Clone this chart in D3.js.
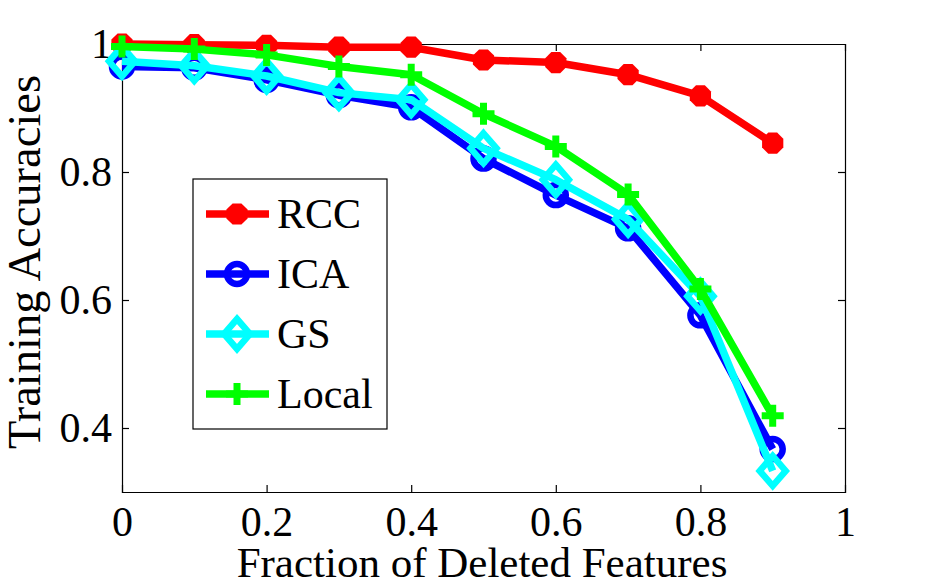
<!DOCTYPE html>
<html>
<head>
<meta charset="utf-8">
<script src="https://cdn.jsdelivr.net/npm/d3@7"></script>
<style>
html,body{margin:0;padding:0;background:#fff;}
svg text{font-family:"Liberation Serif","Times New Roman",serif;fill:#000;}
</style>
</head>
<body>
<svg id="chart" width="934" height="585"></svg>
<script>
// ---- data ----
const fractions = [0, 0.1, 0.2, 0.3, 0.4, 0.5, 0.6, 0.7, 0.8, 0.9];
const rcc   = [1.000, 0.999, 0.998, 0.995, 0.995, 0.975, 0.971, 0.952, 0.919, 0.845];
const ica   = [0.965, 0.963, 0.944, 0.920, 0.901, 0.821, 0.764, 0.712, 0.576, 0.367];
const gs    = [0.973, 0.966, 0.950, 0.924, 0.913, 0.837, 0.788, 0.726, 0.606, 0.333];
const local = [0.996, 0.992, 0.983, 0.965, 0.952, 0.891, 0.840, 0.765, 0.617, 0.419];
const seriesNames = ["RCC", "ICA", "GS", "Local"];
const xTicks = [0, 0.2, 0.4, 0.6, 0.8, 1];
const yTicks = [0.4, 0.6, 0.8, 1];
const xLabel = "Fraction of Deleted Features";
const yLabel = "Training Accuracies";

const series = [
  {name: seriesNames[0], values: rcc,   color: "#ff0000", marker: "octagon"},
  {name: seriesNames[1], values: ica,   color: "#0000ff", marker: "circle"},
  {name: seriesNames[2], values: gs,    color: "#00ffff", marker: "diamond"},
  {name: seriesNames[3], values: local, color: "#00ff00", marker: "plus"}
];

// ---- layout ----
const L = 122, R = 845, T = 44, B = 492;
const FS = 42;
const svg = d3.select("#chart");
const x = d3.scaleLinear().domain([0, 1]).range([L, R]);
const y = d3.scaleLinear().domain([0.3, 1]).range([B, T]);

const fmt = d => String(d);
const tickLen = 7;
const gx = svg.append("g").attr("transform", `translate(0,${B})`)
  .call(d3.axisBottom(x).tickValues(xTicks).tickSize(-tickLen).tickPadding(14).tickFormat(fmt));
const gxTop = svg.append("g").attr("transform", `translate(0,${T})`)
  .call(d3.axisTop(x).tickValues(xTicks).tickSize(-tickLen).tickFormat(""));
const gy = svg.append("g").attr("transform", `translate(${L},0)`)
  .call(d3.axisLeft(y).tickValues(yTicks).tickSize(-tickLen).tickPadding(10).tickFormat(fmt));
const gyR = svg.append("g").attr("transform", `translate(${R},0)`)
  .call(d3.axisRight(y).tickValues(yTicks).tickSize(-tickLen).tickFormat(""));
[gx, gxTop, gy, gyR].forEach(g => {
  g.select(".domain").attr("stroke", "#000").attr("stroke-width", 1.2);
  g.selectAll(".tick line").attr("stroke", "#000").attr("stroke-width", 1.2);
  g.selectAll("text").style("font-size", FS + "px")
    .style("font-family", '"Liberation Serif","Times New Roman",serif').attr("fill", "#000");
});
gx.selectAll(".tick").filter(d => d === 0 || d === 1).select("line").remove();
gxTop.selectAll(".tick").filter(d => d === 0 || d === 1).select("line").remove();
gy.selectAll(".tick").filter(d => d === 1).select("line").remove();
gyR.selectAll(".tick").filter(d => d === 1).select("line").remove();
gy.selectAll(".tick text").attr("dy", "0.33em");
gx.selectAll(".tick text").attr("dy", "0.71em");

// axis labels
svg.append("text").attr("x", 482).attr("y", 577).attr("text-anchor", "middle")
  .style("font-size", "43px").text(xLabel);
svg.append("text").attr("transform", "translate(40,262) rotate(-90)").attr("text-anchor", "middle")
  .style("font-size", "46.5px").text(yLabel);

// marker drawing
function drawMarker(g, type, color) {
  if (type === "octagon") {
    const r = 11.5;
    const pts = d3.range(8).map(i => {
      const a = Math.PI / 8 + i * Math.PI / 4;
      return [r * Math.cos(a), r * Math.sin(a)];
    });
    g.append("path").attr("d", "M" + pts.map(p => p.join(",")).join("L") + "Z").attr("fill", color);
  } else if (type === "circle") {
    g.append("circle").attr("r", 10).attr("fill", "none").attr("stroke", color).attr("stroke-width", 6.5);
  } else if (type === "diamond") {
    g.append("path").attr("d", "M0,-15L13,0L0,15L-13,0Z").attr("fill", "none")
      .attr("stroke", color).attr("stroke-width", 6.5).attr("stroke-linejoin", "miter");
  } else if (type === "plus") {
    g.append("path").attr("d", "M-11,0H11M0,-11V11").attr("stroke", color).attr("stroke-width", 7)
      .attr("stroke-linecap", "butt");
  }
}

// lines and markers
const line = d3.line().x((d, i) => x(fractions[i])).y(d => y(d));
series.forEach(s => {
  const g = svg.append("g");
  g.append("path").datum(s.values).attr("d", line).attr("fill", "none")
    .attr("stroke", s.color).attr("stroke-width", 7.5).attr("stroke-linejoin", "round");
  s.values.forEach((v, i) => {
    const m = g.append("g").attr("transform", `translate(${x(fractions[i])},${y(v)})`);
    drawMarker(m, s.marker, s.color);
  });
});

// legend
const lg = svg.append("g");
lg.append("rect").attr("x", 193).attr("y", 179).attr("width", 194).attr("height", 250)
  .attr("fill", "#fff").attr("stroke", "#000").attr("stroke-width", 1.2);
series.forEach((s, i) => {
  const cy = 214 + i * 60;
  lg.append("line").attr("x1", 206).attr("x2", 269).attr("y1", cy).attr("y2", cy)
    .attr("stroke", s.color).attr("stroke-width", 7.5);
  const m = lg.append("g").attr("transform", `translate(237,${cy})`);
  drawMarker(m, s.marker, s.color);
  lg.append("text").attr("x", 277).attr("y", cy + 14).style("font-size", FS + "px").text(s.name);
});
</script>
</body>
</html>
